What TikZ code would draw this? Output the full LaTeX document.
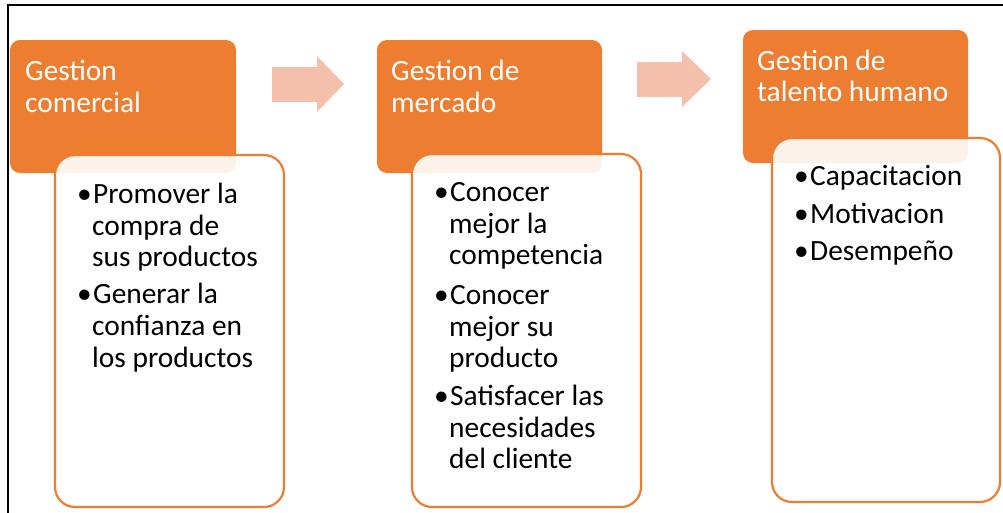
\documentclass[tikz,border=0pt]{standalone}
\usepackage{fontspec}
\setmainfont{Carlito}
\definecolor{acc}{HTML}{ED7D31}
\definecolor{arr}{HTML}{F4C0AB}
\begin{document}
\begin{tikzpicture}[x=1pt,y=-1pt,
  hdr/.style={anchor=base west, inner sep=0pt, text=white, font=\fontsize{29.4}{32}\selectfont},
  txt/.style={anchor=base west, inner sep=0pt, text=black, font=\fontsize{29.4}{32}\selectfont},
  obox/.style={fill=acc, rounded corners=10pt},
  wbox/.style={fill=white, fill opacity=0.9, draw=acc, draw opacity=1, line width=2.2pt, rounded corners=20pt},
  arrowshape/.style={fill=arr}]
\useasboundingbox (0,0) rectangle (1003,512);
% frame
\draw[line width=1.5pt] (8,530) -- (8,5) -- (1020,5);
% orange header boxes
\fill[obox] (10,40) rectangle (236,173);
\fill[obox] (377,40) rectangle (602,173);
\fill[obox] (743,30) rectangle (968,163);
% white content boxes
\path[wbox] (55,155) rectangle (284,507);
\path[wbox] (412,154) rectangle (641,507);
\path[wbox] (772,138) rectangle (1000,502);
% arrows
\fill[arrowshape] (272,67) -- (317,67) -- (317,56) -- (344,84) -- (317,112) -- (317,102) -- (272,102) -- cycle;
\fill[arrowshape] (637,62) -- (682,62) -- (682,51) -- (711,79) -- (682,107) -- (682,97) -- (637,97) -- cycle;
% headers
\node[hdr] (h1a) at (25,80) {Gestion};
\node[hdr] (h1b) at (25,112) {comercial};
\node[hdr] (h2a) at (391,80) {Gestion de};
\node[hdr] (h2b) at (391,112) {mercado};
\node[hdr] (h3a) at (757,70) {Gestion de};
\node[hdr] (h3b) at (757,101) {talento humano};
% box 1
\node[txt] (b1d1) at (77,203) {•};
\node[txt] (b1a) at (93,203) {Promover la};
\node[txt] (b1b) at (92,235) {compra de};
\node[txt] (b1c) at (92,266) {sus productos};
\node[txt] (b1d2) at (77,303) {•};
\node[txt] (b1e) at (93,303) {Generar la};
\node[txt] (b1f) at (92,335) {confianza en};
\node[txt] (b1g) at (92,367) {los productos};
% box 2
\node[txt] (b2d1) at (434,201) {•};
\node[txt] (b2a) at (450,201) {Conocer};
\node[txt] (b2b) at (449,233) {mejor la};
\node[txt] (b2c) at (449,264) {competencia};
\node[txt] (b2d2) at (434,304) {•};
\node[txt] (b2e) at (450,304) {Conocer};
\node[txt] (b2f) at (449,336) {mejor su};
\node[txt] (b2g) at (449,367) {producto};
\node[txt] (b2d3) at (434,405) {•};
\node[txt] (b2h) at (450,405) {Satisfacer las};
\node[txt] (b2i) at (449,437) {necesidades};
\node[txt] (b2j) at (449,468) {del cliente};
% box 3
\node[txt] (b3d1) at (794,185) {•};
\node[txt] (b3a) at (810,185) {Capacitacion};
\node[txt] (b3d2) at (794,223) {•};
\node[txt] (b3b) at (810,223) {Motivacion};
\node[txt] (b3d3) at (794,260) {•};
\node[txt] (b3c) at (810,260) {Desempeño};
\end{tikzpicture}
\end{document}
